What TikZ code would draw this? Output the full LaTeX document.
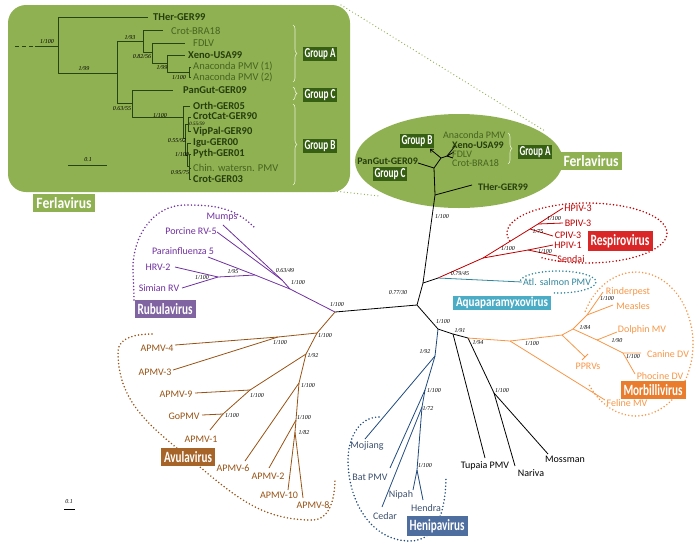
\documentclass[tikz,border=0pt]{standalone}
\usepackage{fontspec}
\setmainfont{Carlito}
\newfontfamily\supfont{Liberation Serif}
\usepackage{graphicx}
\usetikzlibrary{decorations.pathreplacing,arrows.meta}

\definecolor{ferla}{RGB}{143,177,82}
\definecolor{ferladark}{RGB}{55,95,20}
\definecolor{ferlatext}{RGB}{38,62,12}
\definecolor{ferlalight}{RGB}{72,100,32}
\definecolor{rubula}{RGB}{112,48,160}
\definecolor{rubulabox}{RGB}{128,100,162}
\definecolor{avula}{RGB}{151,82,20}
\definecolor{avulabox}{RGB}{166,100,40}
\definecolor{henipa}{RGB}{31,73,125}
\definecolor{henipatext}{RGB}{60,80,110}
\definecolor{henipabox}{RGB}{79,110,160}
\definecolor{aqua}{RGB}{49,133,155}
\definecolor{aquabox}{RGB}{75,172,198}
\definecolor{morbilli}{RGB}{247,150,70}
\definecolor{morbillibox}{RGB}{233,125,45}
\definecolor{respiro}{RGB}{192,0,0}
\definecolor{respirobox}{RGB}{218,38,38}
\definecolor{bracecol}{RGB}{232,240,214}

\newcommand\cladename[3]{\resizebox{#1}{#2}{\bfseries #3}}

\tikzset{ tx/.style = { inner sep = 0pt % taxon name
        , font = \fontsize{10}{12}\selectfont
        }
        , itx/.style = { inner sep = 0pt % taxon name in the inset
        , anchor = west
        , text = ferlatext
        , font = \fontsize{10.5}{12}\selectfont
        }
        , pp/.style = { inner sep = 0pt % posterior / bootstrap
        , font = \supfont\itshape\fontsize{6}{7}\selectfont
        }
        , cl/.style = { rectangle % clade box
        , inner xsep = 3pt
        , inner ysep = 3pt
        , text = white
        }
        }

\begin{document}
\begin{tikzpicture}[x=1pt, y=-1pt, line join=round,
        edge_style/.style={draw=black, line width=0.8pt},
        ferla_edge/.style={draw=ferladark!70!black, line width=0.8pt},
        dot_style/.style={line width=1.7pt, dash pattern=on 0pt off 3.4pt, line cap=round},
        brace_style/.style={draw=bracecol, line width=0.6pt, decorate, decoration={brace, amplitude=4pt}}]
        \useasboundingbox (0,0) rectangle (700,547);

        % Ferlavirus backgrounds
        \fill [ferla] (459,161) ellipse [x radius=104, y radius=47];
        \fill [ferla, rounded corners=18pt] (8,5) rectangle (350,192);
        \coordinate (zoom_tl) at (341,5);
        \coordinate (zoom_tr) at (545,131);
        \coordinate (zoom_bl) at (334,191);
        \coordinate (zoom_br) at (379,196);
        \draw [dot_style, line width=1.3pt, ferla] (zoom_tl) -- (zoom_tr);
        \draw [dot_style, line width=1.3pt, ferla] (zoom_bl) -- (zoom_br);

        % inset tree
        \coordinate (i_0) at (15,46);
        \coordinate (i_1) at (35,46);
        \coordinate (i_r) at (58,46);
        \coordinate (i_2) at (117,73);
        \coordinate (i_3) at (143,41);
        \coordinate (i_4) at (152,52);
        \coordinate (i_5) at (167,63);
        \coordinate (i_6) at (189,72);
        \coordinate (i_7) at (132,103);
        \coordinate (i_8) at (183,117);
        \coordinate (i_9) at (185,138);
        \coordinate (i_10) at (188,124);
        \coordinate (i_11) at (187,155);
        \coordinate (i_12) at (189,166);
        \coordinate (it_ther) at (148,17);
        \coordinate (it_crotbra) at (163,30);
        \coordinate (it_fdlv) at (185,43);
        \coordinate (it_xeno) at (185,55);
        \coordinate (it_ana1) at (191,67);
        \coordinate (it_ana2) at (191,77);
        \coordinate (it_pangut) at (173,90);
        \coordinate (it_orth) at (190,106);
        \coordinate (it_crotcat) at (191,117);
        \coordinate (it_vippal) at (191,131);
        \coordinate (it_igu) at (191,143);
        \coordinate (it_pyth) at (191,154);
        \coordinate (it_chin) at (191,168);
        \coordinate (it_crotger) at (191,179);
        \draw [ferla_edge, dash pattern=on 4pt off 3pt] (i_0) -- (i_1);
        \draw [ferla_edge] (i_1) -- (i_r);
        \draw [ferla_edge] (i_r) |- (it_ther);
        \draw [ferla_edge] (i_r) |- (i_2);
        \draw [ferla_edge] (i_2) |- (i_3);
        \draw [ferla_edge] (i_2) |- (i_7);
        \draw [ferla_edge] (i_3) |- (it_crotbra);
        \draw [ferla_edge] (i_3) |- (i_4);
        \draw [ferla_edge] (i_4) |- (it_fdlv);
        \draw [ferla_edge] (i_4) |- (i_5);
        \draw [ferla_edge] (i_5) |- (it_xeno);
        \draw [ferla_edge] (i_5) |- (i_6);
        \draw [ferla_edge] (i_6) |- (it_ana1);
        \draw [ferla_edge] (i_6) |- (it_ana2);
        \draw [ferla_edge] (i_7) |- (it_pangut);
        \draw [ferla_edge] (i_7) |- (i_8);
        \draw [ferla_edge] (i_8) |- (it_orth);
        \draw [ferla_edge] (i_8) |- (i_9);
        \draw [ferla_edge] (i_9) |- (i_10);
        \draw [ferla_edge] (i_9) |- (i_11);
        \draw [ferla_edge] (i_10) |- (it_crotcat);
        \draw [ferla_edge] (i_10) |- (it_vippal);
        \draw [ferla_edge] (i_11) |- (it_igu);
        \draw [ferla_edge] (i_11) |- (i_12);
        \draw [ferla_edge] (i_12) |- (it_pyth);
        \draw [ferla_edge] (i_12) |- (it_chin);
        \draw [ferla_edge] (i_12) |- (it_crotger);

        \node [itx] (in_ther) at (153,17) {\bfseries THer-GER99};
        \node [itx, text=ferlalight] (in_crotbra) at (171,31) {Crot-BRA18};
        \node [itx, text=ferlalight] (in_fdlv) at (193,43) {FDLV};
        \node [itx] (in_xeno) at (188,55) {\bfseries Xeno-USA99};
        \node [itx, text=ferlalight] (in_ana1) at (193,66) {Anaconda PMV (1)};
        \node [itx, text=ferlalight] (in_ana2) at (193,77) {Anaconda PMV (2)};
        \node [itx] (in_pangut) at (183,90) {\bfseries PanGut-GER09};
        \node [itx] (in_orth) at (193,106) {\bfseries Orth-GER05};
        \node [itx] (in_crotcat) at (193,116.5) {\bfseries CrotCat-GER90};
        \node [itx] (in_vippal) at (193,131.5) {\bfseries VipPal-GER90};
        \node [itx] (in_igu) at (193,143) {\bfseries Igu-GER00};
        \node [itx] (in_pyth) at (193,154) {\bfseries Pyth-GER01};
        \node [itx, text=ferlalight] (in_chin) at (193,168) {Chin. watersn. PMV};
        \node [itx] (in_crotger) at (193,179) {\bfseries Crot-GER03};

        \node [pp] (is_1) at (47,42) {1/100};
        \node [pp] (is_2) at (84,69) {1/99};
        \node [pp] (is_3) at (130,38) {1/93};
        \node [pp] (is_4) at (142,57) {0.82/56};
        \node [pp] (is_5) at (162,68) {1/99};
        \node [pp] (is_6) at (179,78) {1/100};
        \node [pp] (is_7) at (122,109) {0.63/55};
        \node [pp] (is_8) at (160,116) {1/100};
        \node [pp, font=\supfont\itshape\fontsize{5}{6}\selectfont] (is_9) at (197,124) {0.55/59};
        \node [pp] (is_10) at (177,141) {0.55/92};
        \node [pp] (is_11) at (182,155) {1/100};
        \node [pp] (is_12) at (180,173) {0.95/75};

        \coordinate (i_bar0) at (68,165);
        \coordinate (i_bar1) at (107,165);
        \draw [ferla_edge] (i_bar0) -- (i_bar1);
        \node [pp] (i_barlab) at (88,160) {0.1};

        \draw [brace_style] (293,25) -- (293,82);
        \draw [brace_style] (293,87) -- (293,100);
        \draw [brace_style] (293,104) -- (293,185);
        \node [cl, fill=ferladark, inner sep=1.5pt] (g_a) at (320,54) {\cladename{31pt}{9pt}{Group A}};
        \node [cl, fill=ferladark, inner sep=1.5pt] (g_c) at (320,95) {\cladename{31pt}{9pt}{Group C}};
        \node [cl, fill=ferladark, inner sep=1.5pt] (g_b) at (320,146) {\cladename{31pt}{9pt}{Group B}};
        \node [cl, fill=ferla] (k_ferla1) at (64,203) {\cladename{55pt}{11pt}{Ferlavirus}};

        % backbone
        \coordinate (c1) at (417,305);
        \coordinate (c2) at (423,283);
        \coordinate (c3) at (335,312);
        \coordinate (c4) at (438,329);
        \coordinate (c5) at (453,334);
        \coordinate (c6) at (468,338);
        \coordinate (c7) at (494,393);
        \coordinate (r0) at (438,278);
        \coordinate (f0) at (435,195);
        \coordinate (t_tupaia) at (485,458);
        \coordinate (t_nariva) at (515,466);
        \coordinate (t_mossman) at (548,454);
        \draw [edge_style] (c3) -- (c1) -- (c2) -- (r0);
        \draw [edge_style] (c2) -- (f0);
        \draw [edge_style] (c1) -- (c4) -- (c5) -- (c6);
        \draw [edge_style] (c5) -- (t_tupaia);
        \draw [edge_style] (c6) -- (c7) -- (t_nariva);
        \draw [edge_style] (c7) -- (t_mossman);

        % Ferlavirus in the ellipse
        \coordinate (f1) at (434,168);
        \coordinate (f2) at (441,158);
        \coordinate (f3) at (447,156);
        \coordinate (e_ther) at (472,185);
        \coordinate (e_pangut) at (418,163);
        \coordinate (e_grpb) at (430,149);
        \coordinate (e_ga1) at (455,146);
        \coordinate (e_ga2) at (454,152);
        \coordinate (e_ga3) at (453,158);
        \draw [edge_style] (f0) -- (e_ther);
        \draw [edge_style] (f0) -- (f1) -- (e_pangut);
        \draw [edge_style] (f1) -- (f2) -- (f3) -- (e_ga1);
        \draw [edge_style] (f3) -- (e_ga2);
        \draw [edge_style] (f3) -- (e_ga3);
        \draw [edge_style, -{Straight Barb[length=2.5pt,width=4.5pt]}] (f2) -- (e_grpb);
        \node [tx, anchor=west, text=ferlalight] (e_n_ana) at (443,135) {Anaconda PMV};
        \node [tx, anchor=west, text=ferlatext] (e_n_xeno) at (452,145) {\bfseries Xeno-USA99};
        \node [tx, anchor=west, text=ferlalight] (e_n_fdlv) at (452,154) {FDLV};
        \node [tx, anchor=west, text=ferlalight] (e_n_crot) at (452,163) {Crot-BRA18};
        \node [tx, anchor=east, text=ferlatext] (e_n_pangut) at (418,161) {\bfseries PanGut-GER09};
        \node [tx, anchor=west, text=ferlatext] (e_n_ther) at (478,187) {\bfseries THer-GER99};
        \draw [brace_style] (508,133) -- (508,164);
        \node [cl, fill=ferladark, inner sep=1.5pt] (e_ga) at (535,152) {\cladename{31pt}{9pt}{Group A}};
        \node [cl, fill=ferladark, inner sep=1.5pt] (e_gb) at (417,141) {\cladename{31pt}{9pt}{Group B}};
        \node [cl, fill=ferladark, inner sep=1.5pt] (e_gc) at (390,174) {\cladename{31pt}{9pt}{Group C}};
        \node [cl, fill=ferla] (k_ferla2) at (591,161) {\cladename{55pt}{11pt}{Ferlavirus}};

        % Respirovirus and Aquaparamyxovirus
        \coordinate (r1) at (483,258);
        \coordinate (ra) at (530,229);
        \coordinate (rb) at (538,224);
        \coordinate (rc) at (528,250);
        \coordinate (t_hpiv3) at (563,208);
        \coordinate (t_bpiv3) at (563,223);
        \coordinate (t_cpiv3) at (553,236);
        \coordinate (t_hpiv1) at (553,245);
        \coordinate (t_sendai) at (557,256);
        \coordinate (t_atl) at (522,282);
        \draw [edge_style, draw=respiro] (r0) -- (r1) -- (ra) -- (rb) -- (t_hpiv3);
        \draw [edge_style, draw=respiro] (rb) -- (t_bpiv3);
        \draw [edge_style, draw=respiro] (ra) -- (t_cpiv3);
        \draw [edge_style, draw=respiro] (r1) -- (rc) -- (t_hpiv1);
        \draw [edge_style, draw=respiro] (rc) -- (t_sendai);
        \draw [edge_style, draw=aqua] (r0) -- (t_atl);
        \node [tx, text=respiro] (n_hpiv3) at (578,208) {HPIV-3};
        \node [tx, text=respiro] (n_bpiv3) at (578,223) {BPIV-3};
        \node [tx, text=respiro] (n_cpiv3) at (568,235) {CPIV-3};
        \node [tx, text=respiro] (n_hpiv1) at (568,245.5) {HPIV-1};
        \node [tx, text=respiro] (n_sendai) at (571,259.5) {Sendai};
        \node [tx, text=aqua] (n_atl) at (557,282) {Atl. salmon PMV};

        % Rubulavirus
        \coordinate (p1) at (290,289);
        \coordinate (p2) at (282,280);
        \coordinate (p3) at (255,275);
        \coordinate (p4) at (218,277);
        \coordinate (t_mumps) at (223,225);
        \coordinate (t_porcine) at (217,232);
        \coordinate (t_pi5) at (208,257);
        \coordinate (t_hrv2) at (175,267);
        \coordinate (t_simian) at (182,288);
        \draw [edge_style, draw=rubula] (c3) -- (p1) -- (p2) -- (t_mumps);
        \draw [edge_style, draw=rubula] (p2) -- (t_porcine);
        \draw [edge_style, draw=rubula] (p1) -- (p3) -- (t_pi5);
        \draw [edge_style, draw=rubula] (p3) -- (p4) -- (t_hrv2);
        \draw [edge_style, draw=rubula] (p4) -- (t_simian);
        \node [tx, text=rubula] (n_mumps) at (222,217) {Mumps};
        \node [tx, text=rubula] (n_porcine) at (191,231) {Porcine RV-5};
        \node [tx, text=rubula] (n_pi5) at (183,251) {Parainfluenza 5};
        \node [tx, text=rubula] (n_hrv2) at (158,267) {HRV-2};
        \node [tx, text=rubula] (n_simian) at (159,288) {Simian RV};

        % Avulavirus
        \coordinate (a1) at (317,333);
        \coordinate (a2) at (278,337);
        \coordinate (a3) at (306,354);
        \coordinate (a4) at (250,390);
        \coordinate (a5) at (223,414);
        \coordinate (a6) at (299,383);
        \coordinate (a7) at (296,420);
        \coordinate (a8) at (295,432);
        \coordinate (t_apmv4) at (175,345);
        \coordinate (t_apmv3) at (173,370);
        \coordinate (t_apmv9) at (195,393);
        \coordinate (t_gopmv) at (202,415);
        \coordinate (t_apmv1) at (210,430);
        \coordinate (t_apmv6) at (245,461);
        \coordinate (t_apmv2) at (269,468);
        \coordinate (t_apmv10) at (288,490);
        \coordinate (t_apmv8) at (303,498);
        \draw [edge_style, draw=avula] (c3) -- (a1) -- (a2) -- (t_apmv4);
        \draw [edge_style, draw=avula] (a2) -- (t_apmv3);
        \draw [edge_style, draw=avula] (a1) -- (a3) -- (a4) -- (t_apmv9);
        \draw [edge_style, draw=avula] (a4) -- (a5) -- (t_gopmv);
        \draw [edge_style, draw=avula] (a5) -- (t_apmv1);
        \draw [edge_style, draw=avula] (a3) -- (a6) -- (t_apmv6);
        \draw [edge_style, draw=avula] (a6) -- (a7) -- (t_apmv2);
        \draw [edge_style, draw=avula] (a7) -- (a8) -- (t_apmv10);
        \draw [edge_style, draw=avula] (a8) -- (t_apmv8);
        \node [tx, text=avula] (n_apmv4) at (157,348) {APMV-4};
        \node [tx, text=avula] (n_apmv3) at (155,372) {APMV-3};
        \node [tx, text=avula] (n_apmv9) at (176,394) {APMV-9};
        \node [tx, text=avula] (n_gopmv) at (184,416) {GoPMV};
        \node [tx, text=avula] (n_apmv1) at (201,439) {APMV-1};
        \node [tx, text=avula] (n_apmv6) at (233,468) {APMV-6};
        \node [tx, text=avula] (n_apmv2) at (268,476) {APMV-2};
        \node [tx, text=avula] (n_apmv10) at (279,495) {APMV-10};
        \node [tx, text=avula] (n_apmv8) at (313,505) {APMV-8};

        % Henipavirus
        \coordinate (h1) at (435,356);
        \coordinate (h2) at (425,390);
        \coordinate (h3) at (422,407);
        \coordinate (h4) at (417,470);
        \coordinate (t_mojiang) at (365,439);
        \coordinate (t_batpmv) at (390,468);
        \coordinate (t_cedar) at (382,507);
        \coordinate (t_nipah) at (413,490);
        \coordinate (t_hendra) at (423,500);
        \draw [edge_style, draw=henipa] (c4) -- (h1) -- (t_mojiang);
        \draw [edge_style, draw=henipa] (h1) -- (h2) -- (t_batpmv);
        \draw [edge_style, draw=henipa] (h2) -- (h3) -- (t_cedar);
        \draw [edge_style, draw=henipa] (h3) -- (h4) -- (t_nipah);
        \draw [edge_style, draw=henipa] (h4) -- (t_hendra);
        \node [tx, text=henipatext] (n_mojiang) at (367,446) {Mojiang};
        \node [tx, text=henipatext] (n_batpmv) at (370,477) {Bat PMV};
        \node [tx, text=henipatext] (n_cedar) at (385,516) {Cedar};
        \node [tx, text=henipatext] (n_nipah) at (401,495) {Nipah};
        \node [tx, text=henipatext] (n_hendra) at (426,508) {Hendra};

        % Morbillivirus
        \coordinate (o1) at (510,341);
        \coordinate (o2) at (562,335);
        \coordinate (o3) at (573,329);
        \coordinate (o4) at (587,315);
        \coordinate (o6) at (597,340);
        \coordinate (o5) at (623,353);
        \coordinate (t_rinder) at (603,292);
        \coordinate (t_measles) at (613,305);
        \coordinate (t_dolphin) at (617,332);
        \coordinate (t_canine) at (641,353);
        \coordinate (t_phocine) at (635,374);
        \coordinate (t_pprv) at (585,357);
        \coordinate (t_pprv_a) at (582,360);
        \coordinate (t_pprv_b) at (588,354);
        \coordinate (t_feline) at (605,400);
        \draw [edge_style, draw=morbilli] (c6) -- (o1) -- (o2) -- (o3) -- (o4) -- (t_rinder);
        \draw [edge_style, draw=morbilli] (o4) -- (t_measles);
        \draw [edge_style, draw=morbilli] (o3) -- (o6) -- (o5) -- (t_canine);
        \draw [edge_style, draw=morbilli] (o6) -- (t_dolphin);
        \draw [edge_style, draw=morbilli] (o5) -- (t_phocine);
        \draw [edge_style, draw=morbilli] (o2) -- (t_pprv);
        \draw [edge_style, draw=morbilli] (t_pprv_a) -- (t_pprv_b);
        \draw [edge_style, draw=morbilli] (o1) -- (t_feline);
        \node [tx, text=morbilli] (n_rinder) at (628,292) {Rinderpest};
        \node [tx, text=morbilli] (n_measles) at (633,306) {Measles};
        \node [tx, text=morbilli] (n_dolphin) at (642,330) {Dolphin MV};
        \node [tx, text=morbilli] (n_canine) at (668,354) {Canine DV};
        \node [tx, text=morbilli] (n_phocine) at (660,376) {Phocine DV};
        \node [tx, text=morbilli] (n_pprv) at (588,366) {PPRVs};
        \node [tx, text=morbilli] (n_feline) at (627,403) {Feline MV};

        % unassigned
        \node [tx] (n_tupaia) at (485,466) {Tupaia PMV};
        \node [tx] (n_nariva) at (531,473) {Nariva};
        \node [tx] (n_mossman) at (565,459) {Mossman};

        % support values
        \node [pp] (s_c1) at (398,293) {0.77/30};
        \node [pp] (s_f0) at (442,217) {1/100};
        \node [pp] (s_r0) at (460,274) {0.79/45};
        \node [pp] (s_r1) at (508,249) {1/100};
        \node [pp] (s_ra) at (538,232) {1/75};
        \node [pp] (s_rb) at (554,219) {1/100};
        \node [pp] (s_rc) at (545,251.5) {1/100};
        \node [pp] (s_c3) at (337,305) {1/100};
        \node [pp] (s_p1) at (298,283) {1/100};
        \node [pp] (s_p2) at (285,271) {0.63/49};
        \node [pp] (s_p3) at (233,272) {1/95};
        \node [pp] (s_p4) at (202,278) {1/100};
        \node [pp] (s_a1) at (325,336) {1/100};
        \node [pp] (s_a2) at (280,343) {1/100};
        \node [pp] (s_a3) at (313,356) {1/92};
        \node [pp] (s_a4) at (257,396) {1/100};
        \node [pp] (s_a5) at (232,416) {1/100};
        \node [pp] (s_a6) at (308,386) {1/100};
        \node [pp] (s_a7) at (304,418) {1/100};
        \node [pp] (s_a8) at (304,433) {1/82};
        \node [pp] (s_c4) at (443,322) {1/100};
        \node [pp] (s_h1) at (425,352) {1/92};
        \node [pp] (s_h2) at (434,391) {1/100};
        \node [pp] (s_h3) at (428,409) {1/72};
        \node [pp] (s_h4) at (425,466) {1/100};
        \node [pp] (s_c5) at (460,331) {1/91};
        \node [pp] (s_c6) at (478,343) {1/94};
        \node [pp] (s_c7) at (502,391) {1/100};
        \node [pp] (s_o1) at (532,344) {1/100};
        \node [pp] (s_o3) at (585,328) {1/84};
        \node [pp] (s_o4) at (607,299) {1/100};
        \node [pp] (s_o6) at (617,341) {1/90};
        \node [pp] (s_o5) at (633,357) {1/100};

        \coordinate (bar0) at (64,509);
        \coordinate (bar1) at (75,509);
        \draw [edge_style] (bar0) -- (bar1);
        \node [pp] (barlab) at (69,502) {0.1};

        % dotted clade outlines
        \coordinate (respiro_c) at (587,233);
        \coordinate (aqua_c) at (558,282);
        \coordinate (morbilli_c) at (636,344);
        \draw [dot_style, respiro] (respiro_c) ++(165:80 and 30) arc [start angle=165, end angle=485, x radius=80, y radius=30];
        \draw [dot_style, aqua] (aqua_c) ++(190:38 and 11) arc [start angle=190, end angle=460, x radius=38, y radius=11];
        \draw [dot_style, morbilli] (morbilli_c) ++(207:57 and 72) arc [start angle=207, end angle=505, x radius=57, y radius=72];
        \draw [dot_style, rubula] (134,300) to[out=90, in=-90] (133,268) to[out=90, in=180] (185,205) to[out=0, in=135] (254,227);
        \draw [dot_style, avula] (152,334) to[out=180, in=90] (118,352) to[out=-90, in=140] (200,467) to[out=-40, in=180] (312,520) to[out=0, in=-90] (335,478);
        \draw [dot_style, henipa] (379,417) to[out=180, in=90] (348,460) to[out=-90, in=180] (410,541) to[out=0, in=-90] (446,476);

        % clade names
        \node [cl, fill=rubulabox] (k_rubula) at (165,309) {\cladename{55pt}{11pt}{Rubulavirus}};
        \node [cl, fill=avulabox] (k_avula) at (188,457) {\cladename{48pt}{11pt}{Avulavirus}};
        \node [cl, fill=henipabox] (k_henipa) at (437,526) {\cladename{55pt}{11pt}{Henipavirus}};
        \node [cl, fill=morbillibox] (k_morbilli) at (653,390) {\cladename{59pt}{11pt}{Morbillivirus}};
        \node [cl, fill=aquabox, inner ysep=1.5pt] (k_aqua) at (502,303) {\cladename{92pt}{9.5pt}{Aquaparamyxovirus}};
        \node [cl, fill=respirobox] (k_respiro) at (620,241) {\cladename{59pt}{11pt}{Respirovirus}};
\end{tikzpicture}
\end{document}
